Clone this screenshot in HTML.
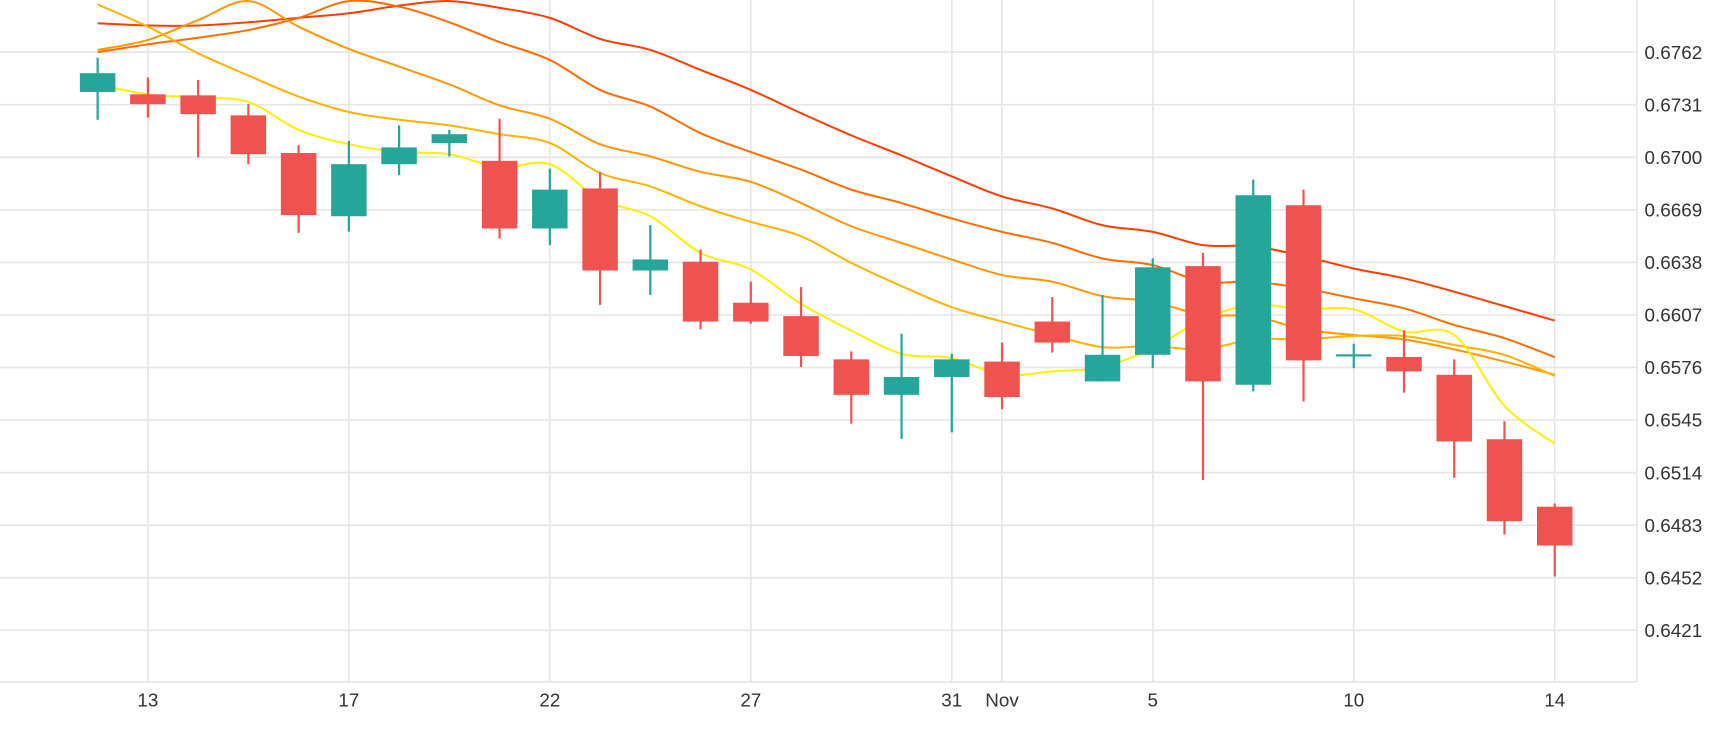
<!DOCTYPE html>
<html><head><meta charset="utf-8"><style>
html,body{margin:0;padding:0;background:#fff;}
svg{display:block;font-family:"Liberation Sans",sans-serif;}
</style></head><body>
<svg id="chart" width="1730" height="730" viewBox="0 0 1560 658.3" xmlns="http://www.w3.org/2000/svg">
<g id="grid"></g>
<g id="lines"></g>
<g id="candles"></g>
<g id="axes"></g>
</svg>
<script>
const xLabelIdx = [1,5,9,13,17,18,21,25,29];
const xLabels = ["13","17","22","27","31","Nov","5","10","14"];
const yTicks = [0.6762,0.6731,0.6700,0.6669,0.6638,0.6607,0.6576,0.6545,0.6514,0.6483,0.6452,0.6421];
const opens = [.67385,.67371,.67365,.67247,.67025,.66652,.66959,.67084,.66979,.66580,.66816,.66332,.66384,.66142,.66063,.65808,.65599,.65704,.65795,.66031,.65678,.65835,.66358,.65658,.66717,.65832,.65822,.65717,.65337,.64939];
const highs = [.67587,.67470,.67456,.67313,.67071,.67097,.67188,.67162,.67228,.66933,.66914,.66600,.66456,.66266,.66234,.65854,.65959,.65841,.65907,.66175,.66188,.66404,.66436,.66868,.66809,.65900,.65979,.65808,.65442,.64958];
const lows = [.67221,.67234,.66999,.66959,.66554,.66561,.66894,.67005,.66521,.66482,.66129,.66188,.65985,.66018,.65763,.65429,.65338,.65377,.65514,.65848,.65678,.65756,.65096,.65619,.65560,.65756,.65612,.65109,.64775,.64527];
const closes = [.67496,.67313,.67254,.67018,.66659,.66959,.67058,.67136,.66580,.66809,.66332,.66397,.66031,.66031,.65828,.65599,.65704,.65808,.65586,.65907,.65835,.66351,.65678,.66776,.65802,.65838,.65737,.65324,.64854,.64710];
const maYellow = [.67430,.67371,.67352,.67326,.67162,.67077,.67031,.67018,.66940,.66959,.66750,.66652,.66436,.66338,.66135,.65978,.65841,.65815,.65717,.65737,.65763,.65874,.66044,.66129,.66103,.66103,.65972,.65952,.65534,.65311];
const maGold = [.67901,.67770,.67613,.67482,.67358,.67267,.67221,.67188,.67136,.67084,.66907,.66828,.66711,.66619,.66534,.66377,.66240,.66116,.66031,.65952,.65880,.65887,.65867,.65926,.65926,.65946,.65946,.65893,.65834,.65710];
const maOrange = [.67633,.67692,.67809,.67921,.67770,.67639,.67535,.67430,.67306,.67227,.67077,.67005,.66914,.66855,.66730,.66593,.66495,.66397,.66305,.66266,.66181,.66148,.66070,.66063,.65985,.65952,.65926,.65867,.65795,.65717];
const maDark = [.67620,.67666,.67705,.67750,.67822,.67921,.67888,.67796,.67679,.67574,.67397,.67299,.67142,.67031,.66927,.66809,.66730,.66639,.66560,.66495,.66403,.66364,.66266,.66266,.66227,.66168,.66109,.66011,.65933,.65821];
const maRed = [.67790,.67777,.67777,.67796,.67822,.67849,.67894,.67921,.67881,.67822,.67698,.67633,.67515,.67397,.67260,.67129,.67011,.66887,.66769,.66698,.66599,.66560,.66482,.66475,.66416,.66344,.66286,.66207,.66122,.66037];

const NS="http://www.w3.org/2000/svg";
const X0=88, DX=45.31, PR=1476, PB=615;
function xs(i){return X0+i*DX;}
function ys(v){return 47+(0.6762-v)/0.0031*47.4;}
function mk(tag,attrs,parent){const e=document.createElementNS(NS,tag);for(const k in attrs)e.setAttribute(k,attrs[k]);parent.appendChild(e);return e;}
const grid=document.getElementById('grid'),axes=document.getElementById('axes'),lg=document.getElementById('lines'),cg=document.getElementById('candles');

yTicks.forEach(t=>{
  const y=ys(t);
  const l=mk('line',{x1:0,x2:PR,y1:y,y2:y,stroke:'#e6e6e6','stroke-width':1.5},grid);
  
  
  const tx=mk('text',{x:PR+7,y:y+6,'font-size':17,fill:'#333'},axes);
  tx.textContent=t.toFixed(4);
  
  
});
xLabelIdx.forEach((ix,k)=>{
  const x=xs(ix);
  const l=mk('line',{x1:x,x2:x,y1:0,y2:PB,stroke:'#e6e6e6','stroke-width':1.5},grid);
  
  
  const tx=mk('text',{x:x,y:637,'font-size':17,fill:'#333','text-anchor':'middle'},axes);
  tx.textContent=xLabels[k];
  
  
});
const bx=mk('line',{x1:0,x2:PR,y1:PB,y2:PB,stroke:'#e6e6e6','stroke-width':1.5},axes);


const by=mk('line',{x1:PR,x2:PR,y1:0,y2:PB,stroke:'#e6e6e6','stroke-width':1.5},axes);



function smooth(arr){
  const p=arr.map((v,i)=>[xs(i),ys(v)]);
  let d='M'+p[0][0]+','+p[0][1];
  for(let i=0;i<p.length-1;i++){
    const p0=p[i-1]||p[i],p1=p[i],p2=p[i+1],p3=p[i+2]||p2;
    const c1=[p1[0]+(p2[0]-p0[0])/6,p1[1]+(p2[1]-p0[1])/6];
    const c2=[p2[0]-(p3[0]-p1[0])/6,p2[1]-(p3[1]-p1[1])/6];
    d+=' C'+c1.join(',')+' '+c2.join(',')+' '+p2.join(',');
  }
  return d;
}
[[maRed,'#ff3d00','ma-red'],[maDark,'#ff6d00','ma-dark-orange'],[maOrange,'#ff9800','ma-orange'],[maGold,'#ffb300','ma-gold'],[maYellow,'#ffee00','ma-yellow']].forEach(s=>{
  const p=mk('path',{d:smooth(s[0]),fill:'none',stroke:s[1],'stroke-width':1.8},lg);
  
  
});

opens.forEach((o,i)=>{
  const c=closes[i],up=c>=o,col=up?'#26a69a':'#ef5350',x=xs(i);
  const g=mk('g',{},cg);
  
  
  mk('line',{x1:x,x2:x,y1:ys(highs[i]),y2:ys(lows[i]),stroke:col,'stroke-width':2},g);
  const top=ys(Math.max(o,c)),bot=ys(Math.min(o,c));
  mk('rect',{x:x-16,y:top,width:32,height:Math.max(bot-top,2),fill:col},g);
});
</script>
</body></html>
